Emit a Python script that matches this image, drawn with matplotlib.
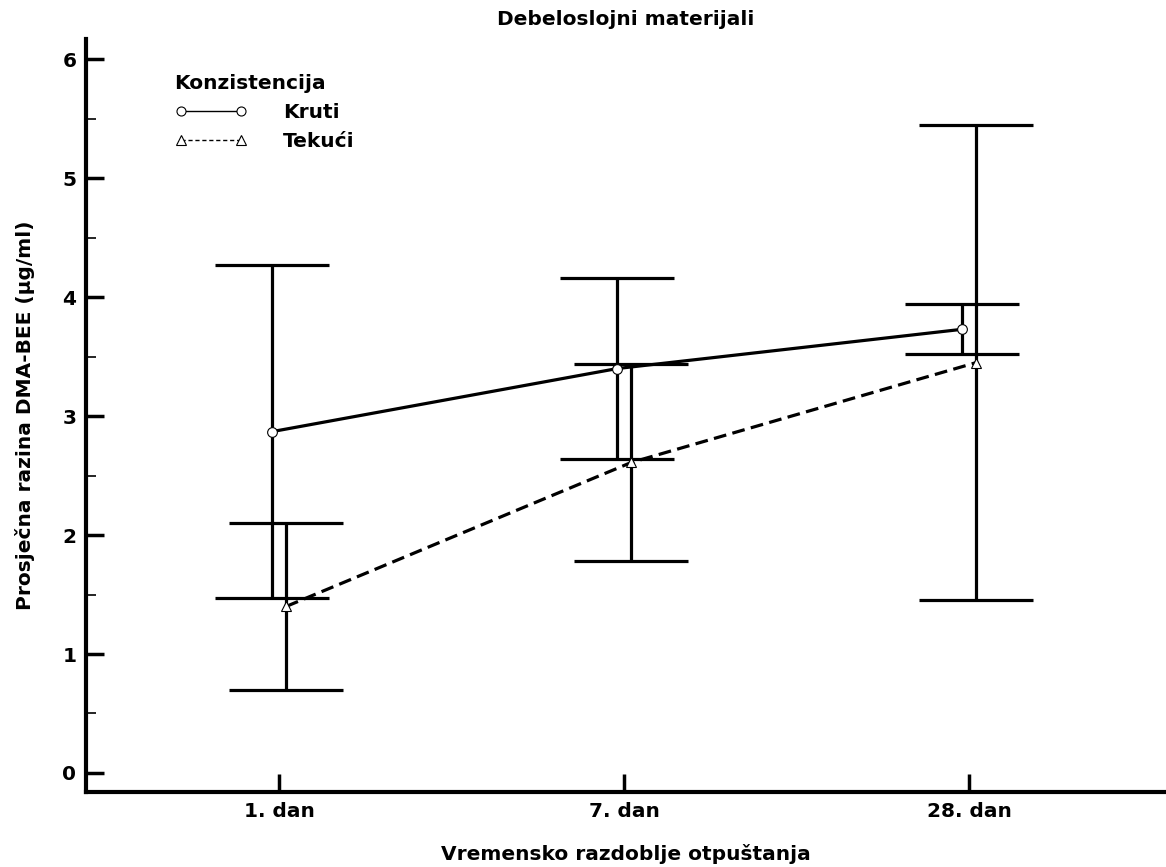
import matplotlib
matplotlib.use('Agg')
import matplotlib.pyplot as plt
from matplotlib.lines import Line2D
import numpy as np

plt.rcParams['font.family'] = ['DejaVu Sans']
plt.rcParams['font.weight'] = 'bold'

days = ['1. dan', '7. dan', '28. dan']
kruti_mean = [2.87, 3.40, 3.73]
kruti_err = [1.40, 0.76, 0.21]
tekuci_mean = [1.40, 2.61, 3.45]
tekuci_err = [0.70, 0.83, 2.00]

x = np.arange(1, len(days) + 1)

fig = plt.figure(figsize=(11.66, 8.67), dpi=100)
ax = fig.add_axes([0.0738, 0.0865, 0.9262, 0.8685])

# error bars first, markers on top
ax.errorbar(x - 0.02, kruti_mean, yerr=kruti_err, fmt='none', ecolor='black',
            elinewidth=2.3, capsize=41, capthick=2.3, zorder=2)
ax.errorbar(x + 0.02, tekuci_mean, yerr=tekuci_err, fmt='none', ecolor='black',
            elinewidth=2.3, capsize=41, capthick=2.3, zorder=2)

ax.plot(x - 0.02, kruti_mean, color='black', lw=2.3, ls='-', zorder=3,
        marker='o', markersize=7, markerfacecolor='white', markeredgecolor='black',
        markeredgewidth=0.8)
ax.plot(x + 0.02, tekuci_mean, color='black', lw=2.3, ls=(0, (4, 2)), zorder=3,
        marker='^', markersize=7, markerfacecolor='white', markeredgecolor='black',
        markeredgewidth=0.8)

ax.set_xlim(0.44, 3.57)
ax.set_ylim(-0.16, 6.17)
ax.set_xticks(x)
ax.set_xticklabels(days)
ax.set_yticks(range(0, 7))
ax.set_yticks(np.arange(0.5, 6, 1.0), minor=True)

for s in ['top', 'right']:
    ax.spines[s].set_visible(False)
for s in ['left', 'bottom']:
    ax.spines[s].set_linewidth(3)

ax.tick_params(axis='both', which='major', direction='in', length=13, width=2.5,
               labelsize=14.5, pad=7)
ax.tick_params(axis='y', which='minor', direction='in', length=7, width=1.2)
ax.tick_params(axis='x', which='minor', bottom=False)

ax.set_title('Debeloslojni materijali', fontsize=14.5, fontweight='bold', pad=10)
ax.set_xlabel('Vremensko razdoblje otpuštanja', fontsize=14.5, fontweight='bold', labelpad=17)
ax.set_ylabel('Prosječna razina DMA-BEE (µg/ml)', fontsize=14.5, fontweight='bold', labelpad=20)

handles = [
    Line2D([], [], color='black', lw=1.0, ls='-', marker='o', markersize=6.5,
           markerfacecolor='white', markeredgecolor='black', markeredgewidth=0.8),
    Line2D([], [], color='black', lw=1.0, ls=(0, (3, 2)), marker='^', markersize=6.5,
           markerfacecolor='white', markeredgecolor='black', markeredgewidth=0.8),
]
leg = ax.legend(handles, ['Kruti', 'Tekući'], title='Konzistencija', loc='upper left',
                bbox_to_anchor=(0.067, 0.975), frameon=False, numpoints=2,
                handlelength=3.6, handletextpad=1.8, fontsize=14.5,
                title_fontsize=14.5, labelspacing=0.5, alignment='left',
                borderpad=0.3)
leg.get_title().set_fontweight('bold')
for t in leg.get_texts():
    t.set_fontweight('bold')

fig.savefig('out.png', dpi=100)
